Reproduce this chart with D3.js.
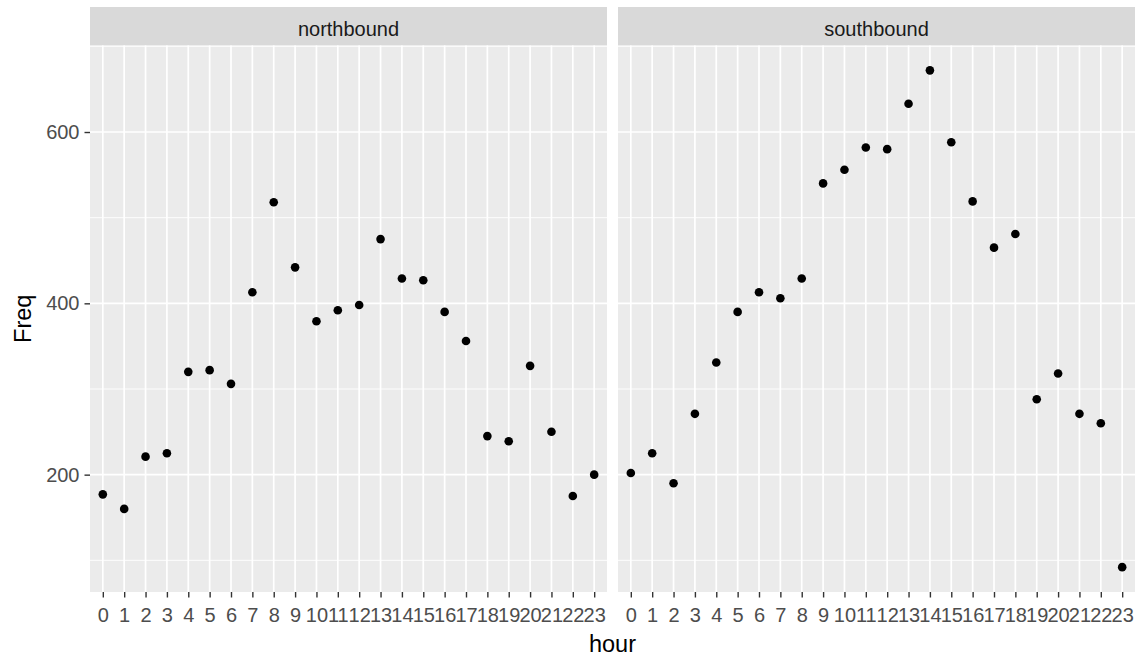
<!DOCTYPE html>
<html>
<head>
<meta charset="utf-8">
<script src="https://cdn.jsdelivr.net/npm/d3@7"></script>
<style>
  body { margin: 0; background: #fff; }
  svg text { font-family: "Liberation Sans", Arial, sans-serif; }
</style>
</head>
<body>
<div id="chart"></div>
<script>
// data
const hours = d3.range(0, 24).map(String);
const directions = ["northbound", "southbound"];
const northbound = [177, 160, 221, 225, 320, 322, 306, 413, 518, 442, 379, 392,
  398, 475, 429, 427, 390, 356, 245, 239, 327, 250, 175, 200];
const southbound = [202, 225, 190, 271, 331, 390, 413, 406, 429, 540, 556, 582,
  580, 633, 672, 588, 519, 465, 481, 288, 318, 271, 260, 92];
const yMajor = [200, 400, 600];
const yMinor = [100, 300, 500, 700];

const series = { northbound: northbound, southbound: southbound };

var width = 1138,
  height = 658;

var panels = [
  { name: "northbound", x0: 90, x1: 607 },
  { name: "southbound", x0: 618, x1: 1135 },
];
var stripTop = 7,
  stripBottom = 45.5,
  panelTop = 45.5,
  panelBottom = 592;

var axisFont = 20;

var svg = d3
  .select("#chart")
  .append("svg")
  .attr("width", width)
  .attr("height", height);

// ggplot-style 5% expansion on continuous y
var all = northbound.concat(southbound);
var ext = d3.extent(all);
var pad = (ext[1] - ext[0]) * 0.05;
var y = d3
  .scaleLinear()
  .domain([ext[0] - pad, ext[1] + pad])
  .range([panelBottom, panelTop]);

panels.forEach(function (p) {
  var x = d3.scalePoint().domain(hours).range([p.x0, p.x1]).padding(0.6);
  var g = svg.append("g");

  // strip
  g.append("rect")
    .attr("x", p.x0)
    .attr("y", stripTop)
    .attr("width", p.x1 - p.x0)
    .attr("height", stripBottom - stripTop)
    .attr("fill", "#D9D9D9");
  g.append("text")
    .attr("x", (p.x0 + p.x1) / 2)
    .attr("y", 36)
    .attr("text-anchor", "middle")
    .attr("font-size", axisFont)
    .attr("fill", "#1A1A1A")
    .text(p.name);

  // panel
  g.append("rect")
    .attr("x", p.x0)
    .attr("y", panelTop)
    .attr("width", p.x1 - p.x0)
    .attr("height", panelBottom - panelTop)
    .attr("fill", "#EBEBEB");

  g.selectAll(".minor")
    .data(yMinor.filter((v) => v >= y.domain()[0] && v <= y.domain()[1]))
    .enter()
    .append("line")
    .attr("x1", p.x0)
    .attr("x2", p.x1)
    .attr("y1", (d) => y(d))
    .attr("y2", (d) => y(d))
    .attr("stroke", "#fff")
    .attr("stroke-width", 0.9);

  g.selectAll(".major")
    .data(yMajor)
    .enter()
    .append("line")
    .attr("x1", p.x0)
    .attr("x2", p.x1)
    .attr("y1", (d) => y(d))
    .attr("y2", (d) => y(d))
    .attr("stroke", "#fff")
    .attr("stroke-width", 1.7);

  g.selectAll(".vgrid")
    .data(hours)
    .enter()
    .append("line")
    .attr("x1", (d) => x(d))
    .attr("x2", (d) => x(d))
    .attr("y1", panelTop)
    .attr("y2", panelBottom)
    .attr("stroke", "#fff")
    .attr("stroke-width", 1.7);

  // x axis
  var xAxis = d3.axisBottom(x).tickSize(5.5).tickPadding(4);
  var ax = g
    .append("g")
    .attr("transform", "translate(0," + panelBottom + ")")
    .call(xAxis);
  ax.select(".domain").remove();
  ax.selectAll(".tick line").attr("stroke", "#333333").attr("stroke-width", 1.4);
  ax.selectAll(".tick text")
    .attr("font-size", axisFont)
    .attr("font-family", "Liberation Sans, Arial, sans-serif")
    .attr("fill", "#4D4D4D")
    .attr("dy", null)
    .attr("y", 30);

  // points
  g.selectAll("circle")
    .data(series[p.name])
    .enter()
    .append("circle")
    .attr("cx", (d, i) => x(hours[i]))
    .attr("cy", (d) => y(d))
    .attr("r", 4.3)
    .attr("fill", "#000");
});

// y axis on the left panel only
var yAxis = d3.axisLeft(y).tickValues(yMajor).tickSize(5.5).tickPadding(5);
var ay = svg
  .append("g")
  .attr("transform", "translate(" + panels[0].x0 + ",0)")
  .call(yAxis);
ay.select(".domain").remove();
ay.selectAll(".tick line").attr("stroke", "#333333").attr("stroke-width", 1.4);
ay.selectAll(".tick text")
  .attr("font-size", axisFont)
  .attr("font-family", "Liberation Sans, Arial, sans-serif")
  .attr("fill", "#4D4D4D");

// axis titles
svg
  .append("text")
  .attr("x", (panels[0].x0 + panels[1].x1) / 2)
  .attr("y", 652)
  .attr("text-anchor", "middle")
  .attr("font-size", 23.5)
  .attr("fill", "#000")
  .text("hour");

svg
  .append("text")
  .attr("transform", "translate(31," + (panelTop + panelBottom) / 2 + ") rotate(-90)")
  .attr("text-anchor", "middle")
  .attr("font-size", 23.5)
  .attr("fill", "#000")
  .text("Freq");
</script>
</body>
</html>
